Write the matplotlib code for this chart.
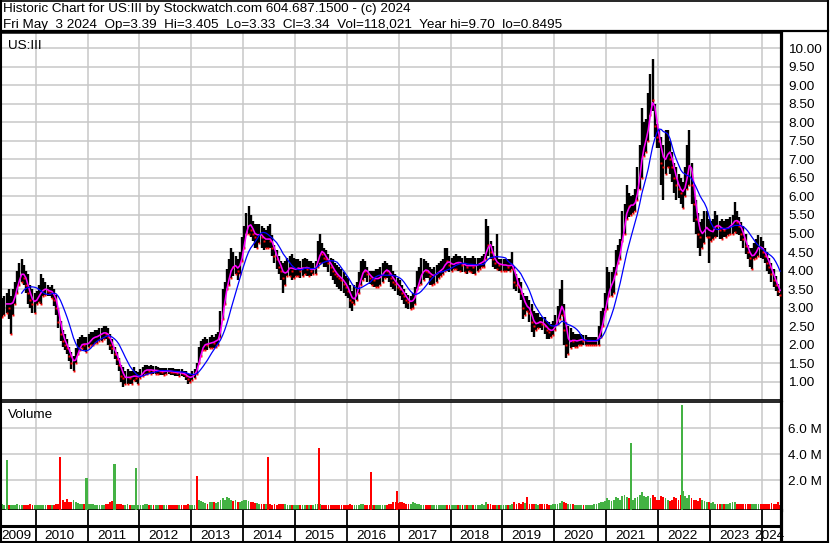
import numpy as np
import matplotlib
matplotlib.use("Agg")
import matplotlib.pyplot as plt
from matplotlib.lines import Line2D

plt.rcParams['font.family'] = ['Liberation Sans', 'DejaVu Sans']

# ---------------- data (semi-monthly readings, starting first half of May 2009) ----------------
start_year = 2009 + 8 / 24

highs = [
    3.25, 3.3, 3.4, 3.5, 3.3, 3.5, 3.7, 4.0, 4.2, 4.3, 4.15, 4.0, 3.9, 3.6, 3.5, 3.4,
    3.45, 3.6, 3.9, 3.8, 3.7, 3.6, 3.55, 3.6, 3.5, 3.35, 3.0, 2.65, 2.4, 2.3, 2.15, 1.95, 1.8, 1.7, 1.9, 2.15, 2.2, 2.25, 2.2, 2.2,
    2.3, 2.35, 2.35, 2.4, 2.4, 2.45, 2.45, 2.5, 2.5, 2.45, 2.3, 2.15, 1.95, 1.8, 1.65, 1.45, 1.4, 1.3, 1.35, 1.3, 1.3, 1.4, 1.3, 1.25,
    1.35, 1.4, 1.45, 1.45, 1.42, 1.45, 1.42, 1.42, 1.4, 1.38, 1.38, 1.38, 1.38, 1.38, 1.36, 1.36, 1.35, 1.33, 1.33, 1.33, 1.3, 1.28, 1.2, 1.22,
    1.3, 1.35, 1.5, 1.95, 2.1, 2.15, 2.2, 2.15, 2.2, 2.25, 2.2, 2.3, 2.35, 2.9, 3.5, 3.7, 4.05, 4.3, 4.6, 4.5, 4.4, 4.3, 4.5, 4.9,
    5.2, 5.55, 5.75, 5.5, 5.35, 5.25, 5.25, 5.25, 5.2, 5.15, 5.1, 5.2, 5.25, 4.95, 4.7, 4.55, 4.4, 4.25, 4.2, 4.25, 4.35, 4.4, 4.45, 4.35,
    4.3, 4.3, 4.25, 4.3, 4.35, 4.3, 4.25, 4.25, 4.2, 4.25, 4.8, 5.0, 4.75, 4.6, 4.55, 4.45, 4.35, 4.3, 4.2, 4.15, 4.1, 4.05, 3.95, 3.85,
    3.8, 3.6, 3.45, 3.6, 3.7, 3.95, 4.25, 4.3, 4.25, 4.1, 4.0, 4.0, 4.0, 4.05, 4.05, 4.1, 4.2, 4.25, 4.2, 4.15, 4.15, 4.0, 3.9, 3.8,
    3.75, 3.6, 3.5, 3.4, 3.35, 3.3, 3.4, 3.55, 4.0, 4.1, 4.35, 4.3, 4.25, 4.2, 4.1, 4.05, 4.1, 4.15, 4.2, 4.25, 4.3, 4.6, 4.6, 4.4,
    4.35, 4.4, 4.45, 4.4, 4.4, 4.35, 4.4, 4.35, 4.35, 4.35, 4.4, 4.35, 4.35, 4.35, 4.4, 4.45, 5.4, 5.2, 4.8, 4.65, 4.4, 5.0, 4.3, 4.3,
    4.3, 4.3, 4.3, 4.3, 4.5, 4.1, 3.9, 3.8, 3.7, 3.4, 3.3, 3.3, 3.2, 3.1, 2.9, 2.85, 2.85, 2.75, 2.75, 2.75, 2.65, 2.6, 2.55, 2.65,
    2.8, 3.05, 3.5, 3.75, 3.1, 2.6, 2.5, 2.45, 2.35, 2.3, 2.3, 2.3, 2.3, 2.25, 2.25, 2.2, 2.2, 2.2, 2.2, 2.2, 2.5, 2.9, 3.0, 3.4,
    4.1, 3.95, 3.95, 4.1, 4.55, 4.7, 4.85, 5.6, 5.8, 6.3, 6.1, 6.0, 6.05, 6.2, 6.8, 7.4, 8.4, 8.0, 8.1, 8.8, 9.3, 9.7, 8.5, 7.95,
    7.8, 7.6, 7.4, 7.8, 7.8, 7.5, 7.2, 6.9, 6.8, 6.6, 6.5, 6.4, 6.8, 7.4, 7.8, 6.9, 6.3, 5.9, 5.55, 5.3, 5.4, 5.6, 5.6, 5.4,
    5.35, 5.4, 5.6, 5.5, 5.35, 5.4, 5.35, 5.4, 5.4, 5.45, 5.5, 5.85, 5.6, 5.45, 5.3, 5.2, 5.0, 4.7, 4.6, 4.6, 4.75, 4.85, 4.95, 4.9,
    4.8, 4.6, 4.5, 4.35, 4.2, 4.05, 3.85, 3.65, 3.405,
]

lows = [
    2.75, 2.8, 2.85, 2.7, 2.3, 2.8, 3.1, 3.4, 3.6, 3.7, 3.6, 3.4, 3.1, 3.0, 2.85, 2.85,
    3.1, 3.15, 3.1, 3.3, 3.35, 3.3, 3.3, 3.25, 3.05, 2.8, 2.45, 2.1, 1.95, 1.85, 1.75, 1.55, 1.35, 1.3, 1.5, 1.75, 1.85, 1.9, 1.85, 1.8,
    1.95, 2.0, 2.0, 2.05, 2.05, 2.1, 2.1, 2.15, 2.15, 2.0, 1.85, 1.75, 1.6, 1.45, 1.3, 1.0, 0.87, 0.95, 0.95, 0.95, 0.95, 1.05, 1.0, 0.95,
    1.1, 1.15, 1.2, 1.2, 1.2, 1.2, 1.2, 1.2, 1.2, 1.18, 1.18, 1.18, 1.2, 1.2, 1.18, 1.18, 1.15, 1.15, 1.15, 1.15, 1.12, 1.05, 0.95, 1.0,
    1.05, 1.1, 1.2, 1.5, 1.7, 1.85, 1.85, 1.85, 1.9, 1.9, 1.9, 1.95, 2.0, 2.2, 2.7, 3.1, 3.5, 3.6, 3.8, 3.85, 3.9, 3.75, 3.9, 4.25,
    4.6, 5.0, 5.0, 4.9, 4.8, 4.6, 4.6, 4.75, 4.6, 4.55, 4.6, 4.6, 4.6, 4.4, 4.2, 4.05, 3.9, 3.75, 3.4, 3.6, 3.85, 3.85, 3.75, 3.8,
    3.85, 3.85, 3.8, 3.85, 3.9, 3.85, 3.85, 3.85, 3.9, 3.9, 4.1, 4.2, 4.2, 4.1, 4.1, 3.95, 3.85, 3.75, 3.65, 3.55, 3.5, 3.45, 3.4, 3.3,
    3.25, 3.0, 2.9, 3.1, 3.2, 3.4, 3.6, 3.75, 3.8, 3.7, 3.65, 3.6, 3.55, 3.55, 3.55, 3.6, 3.7, 3.8, 3.8, 3.7, 3.55, 3.5, 3.45, 3.35,
    3.3, 3.2, 3.1, 3.0, 2.95, 2.95, 3.0, 3.1, 3.5, 3.6, 3.65, 3.75, 3.8, 3.8, 3.6, 3.6, 3.65, 3.7, 3.8, 3.85, 3.9, 4.0, 4.0, 3.95,
    4.0, 4.05, 4.05, 4.0, 4.0, 3.95, 3.95, 3.9, 4.0, 3.95, 3.9, 3.9, 4.0, 4.05, 4.1, 4.1, 4.3, 4.4, 4.3, 4.1, 4.05, 4.05, 4.0, 4.0,
    4.0, 4.0, 4.0, 4.0, 4.05, 3.5, 3.45, 3.4, 3.2, 2.7, 2.8, 2.9, 2.6, 2.35, 2.2, 2.4, 2.45, 2.45, 2.4, 2.3, 2.15, 2.15, 2.2, 2.25,
    2.4, 2.55, 2.7, 2.8, 2.0, 1.65, 1.75, 1.9, 1.95, 1.95, 1.95, 2.0, 2.0, 2.0, 2.0, 2.0, 2.0, 2.0, 2.0, 1.98, 2.0, 2.2, 2.5, 2.9,
    2.95, 3.3, 3.3, 3.4, 3.9, 4.2, 4.3, 4.8, 5.0, 5.4, 5.45, 5.5, 5.55, 5.6, 5.9, 6.2, 6.5, 7.1, 7.2, 7.5, 8.2, 8.3, 7.6, 7.3,
    7.3, 6.3, 5.9, 6.6, 6.8, 6.6, 6.4, 6.1, 5.9, 5.95, 5.8, 5.7, 6.0, 6.2, 6.3, 5.8, 5.3, 5.0, 4.6, 4.4, 4.6, 4.75, 4.9, 4.2,
    4.8, 4.85, 4.9, 4.9, 4.85, 4.85, 4.9, 4.9, 4.95, 5.0, 5.0, 5.05, 5.0, 4.95, 4.8, 4.6, 4.45, 4.3, 4.1, 4.05, 4.3, 4.35, 4.4, 4.35,
    4.3, 4.2, 4.0, 3.9, 3.7, 3.55, 3.45, 3.3, 3.33,
]

closes = [
    3.0, 3.1, 3.2, 3.0, 3.1, 3.3, 3.5, 3.8, 3.9, 4.0, 3.8, 3.6, 3.4, 3.2, 3.1, 3.2,
    3.3, 3.4, 3.5, 3.5, 3.5, 3.45, 3.4, 3.45, 3.2, 3.0, 2.6, 2.3, 2.1, 2.0, 1.9, 1.7, 1.5, 1.5, 1.75, 1.95, 2.0, 2.05, 2.0, 2.0,
    2.1, 2.2, 2.2, 2.2, 2.25, 2.3, 2.3, 2.35, 2.3, 2.2, 2.0, 1.9, 1.75, 1.6, 1.45, 1.15, 1.1, 1.1, 1.15, 1.1, 1.15, 1.2, 1.1, 1.1,
    1.25, 1.3, 1.32, 1.33, 1.3, 1.32, 1.3, 1.3, 1.3, 1.28, 1.27, 1.28, 1.3, 1.28, 1.27, 1.26, 1.25, 1.24, 1.24, 1.23, 1.2, 1.15, 1.08, 1.12,
    1.2, 1.25, 1.4, 1.8, 1.95, 2.0, 2.05, 2.0, 2.05, 2.1, 2.05, 2.15, 2.2, 2.7, 3.2, 3.5, 3.8, 4.0, 4.2, 4.1, 4.1, 4.0, 4.3, 4.7,
    5.0, 5.3, 5.3, 5.1, 5.0, 4.9, 5.0, 5.0, 4.9, 4.8, 4.85, 4.9, 4.8, 4.6, 4.4, 4.3, 4.1, 4.0, 3.8, 4.0, 4.1, 4.1, 4.0, 4.05,
    4.05, 4.1, 4.0, 4.1, 4.1, 4.05, 4.05, 4.0, 4.05, 4.1, 4.5, 4.6, 4.45, 4.35, 4.3, 4.2, 4.1, 4.0, 3.9, 3.85, 3.8, 3.75, 3.65, 3.55,
    3.45, 3.2, 3.15, 3.35, 3.5, 3.75, 4.0, 4.05, 4.0, 3.9, 3.8, 3.8, 3.75, 3.8, 3.8, 3.85, 4.0, 4.05, 4.0, 3.9, 3.8, 3.7, 3.65, 3.55,
    3.5, 3.4, 3.3, 3.2, 3.15, 3.15, 3.25, 3.4, 3.75, 3.85, 4.0, 4.05, 4.0, 3.95, 3.85, 3.85, 3.9, 3.95, 4.0, 4.05, 4.1, 4.3, 4.25, 4.15,
    4.15, 4.2, 4.25, 4.2, 4.2, 4.15, 4.15, 4.1, 4.15, 4.15, 4.1, 4.15, 4.2, 4.2, 4.25, 4.3, 4.9, 4.7, 4.5, 4.3, 4.2, 4.2, 4.15, 4.15,
    4.15, 4.15, 4.1, 4.15, 4.2, 3.7, 3.6, 3.55, 3.4, 3.0, 3.05, 3.05, 2.85, 2.6, 2.5, 2.6, 2.65, 2.6, 2.55, 2.5, 2.4, 2.35, 2.4, 2.45,
    2.6, 2.8, 3.1, 3.2, 2.4, 2.0, 2.1, 2.15, 2.1, 2.1, 2.1, 2.15, 2.15, 2.1, 2.1, 2.1, 2.1, 2.1, 2.1, 2.1, 2.3, 2.6, 2.8, 3.2,
    3.5, 3.6, 3.7, 3.9, 4.3, 4.45, 4.6, 5.3, 5.5, 5.8, 5.75, 5.75, 5.8, 5.95, 6.5, 7.0, 7.4, 7.5, 7.7, 8.2, 8.8, 8.6, 7.9, 7.6,
    7.5, 6.9, 6.8, 7.3, 7.3, 7.0, 6.8, 6.5, 6.3, 6.2, 6.1, 6.1, 6.5, 6.9, 7.1, 6.3, 5.8, 5.4, 5.0, 4.9, 5.1, 5.2, 5.2, 4.9,
    5.1, 5.15, 5.3, 5.2, 5.1, 5.15, 5.1, 5.15, 5.2, 5.25, 5.3, 5.45, 5.3, 5.2, 5.0, 4.85, 4.65, 4.5, 4.35, 4.35, 4.55, 4.6, 4.7, 4.6,
    4.5, 4.4, 4.2, 4.1, 3.9, 3.75, 3.6, 3.45, 3.34,
]

volumes_m = [
    0.15, 0.12, 0.12, 0.1, 0.1, 0.12, 0.1, 0.15, 0.12, 0.1, 0.1, 0.12, 0.1, 0.15, 0.1, 0.12,
    0.1, 0.1, 0.12, 0.1, 0.1, 0.12, 0.1, 0.1, 0.12, 0.15, 0.2, 0.3, 0.45, 0.35, 0.55, 0.3, 0.35, 0.5, 0.3, 0.25, 0.2, 0.15, 0.15, 0.12,
    0.15, 0.2, 0.15, 0.1, 0.12, 0.1, 0.12, 0.1, 0.15, 0.2, 0.35, 0.4, 0.3, 0.2, 0.15, 0.15, 0.12, 0.1, 0.15, 0.1, 0.12, 0.1, 0.1, 0.1,
    0.1, 0.12, 0.2, 0.15, 0.1, 0.1, 0.1, 0.08, 0.1, 0.1, 0.08, 0.08, 0.08, 0.1, 0.08, 0.08, 0.1, 0.08, 0.08, 0.1, 0.08, 0.1, 0.15, 0.1,
    0.1, 0.12, 0.3, 0.5, 0.4, 0.3, 0.25, 0.2, 0.3, 0.35, 0.3, 0.25, 0.3, 0.5, 0.6, 0.5, 0.7, 0.6, 0.5, 0.4, 0.45, 0.35, 0.3, 0.4,
    0.45, 0.5, 0.4, 0.35, 0.3, 0.25, 0.25, 0.2, 0.2, 0.15, 0.15, 0.2, 0.15, 0.12, 0.15, 0.12, 0.15, 0.15, 0.2, 0.15, 0.12, 0.1, 0.12, 0.1,
    0.1, 0.12, 0.1, 0.1, 0.08, 0.1, 0.1, 0.12, 0.1, 0.15, 0.2, 0.15, 0.12, 0.1, 0.1, 0.08, 0.1, 0.08, 0.1, 0.08, 0.1, 0.1, 0.08, 0.1,
    0.12, 0.15, 0.1, 0.1, 0.08, 0.1, 0.2, 0.15, 0.1, 0.1, 0.12, 0.1, 0.12, 0.1, 0.1, 0.1, 0.12, 0.1, 0.1, 0.15, 0.2, 0.3, 0.35, 0.25,
    0.3, 0.35, 0.25, 0.2, 0.15, 0.2, 0.3, 0.25, 0.2, 0.15, 0.12, 0.1, 0.1, 0.1, 0.12, 0.1, 0.1, 0.08, 0.1, 0.1, 0.08, 0.1, 0.1, 0.1,
    0.1, 0.1, 0.1, 0.08, 0.1, 0.1, 0.1, 0.08, 0.08, 0.1, 0.1, 0.12, 0.1, 0.12, 0.15, 0.12, 0.3, 0.2, 0.15, 0.12, 0.1, 0.12, 0.1, 0.1,
    0.1, 0.1, 0.1, 0.1, 0.15, 0.3, 0.2, 0.25, 0.2, 0.3, 0.25, 0.2, 0.15, 0.2, 0.15, 0.15, 0.12, 0.15, 0.2, 0.15, 0.15, 0.12, 0.12, 0.15,
    0.15, 0.2, 0.25, 0.4, 0.3, 0.25, 0.2, 0.15, 0.15, 0.12, 0.12, 0.1, 0.12, 0.1, 0.12, 0.1, 0.1, 0.12, 0.15, 0.15, 0.25, 0.35, 0.3, 0.4,
    0.6, 0.45, 0.4, 0.5, 0.7, 0.6, 0.5, 0.8, 0.9, 0.7, 0.6, 0.5, 0.5, 0.6, 0.7, 0.9, 1.1, 0.8, 0.7, 0.8, 0.6, 0.9, 0.7, 0.5,
    0.5, 0.8, 0.7, 0.6, 0.5, 0.4, 0.5, 0.7, 0.6, 0.5, 0.9, 1.2, 0.8, 0.6, 0.9, 0.6, 0.5, 0.5, 0.4, 0.6, 0.5, 0.4, 0.3, 0.3,
    0.25, 0.3, 0.2, 0.2, 0.15, 0.2, 0.15, 0.15, 0.2, 0.25, 0.35, 0.3, 0.2, 0.15, 0.2, 0.15, 0.15, 0.2, 0.15, 0.2, 0.15, 0.2, 0.2, 0.15,
    0.15, 0.2, 0.15, 0.2, 0.25, 0.2, 0.15, 0.3, 0.12,
]

spike_dates = [2009.45, 2010.46, 2010.98, 2011.52, 2011.93, 2013.11, 2014.48,
               2015.47, 2016.47, 2016.96, 2019.47, 2021.48, 2022.46]
spike_vols_m = [3.56, 3.82, 2.18, 3.25, 2.95, 2.33, 3.79,
                4.46, 2.64, 1.18, 0.72, 4.85, 7.8]
spike_up = [True, False, True, True, True, False, False,
            False, False, False, False, True, True]

price_ticks = [1.0, 1.5, 2.0, 2.5, 3.0, 3.5, 4.0, 4.5, 5.0, 5.5, 6.0, 6.5, 7.0, 7.5, 8.0, 8.5, 9.0, 9.5, 10.0]
volume_ticks_m = [2.0, 4.0, 6.0]
year_labels = list(range(2009, 2025))

title_line1 = "Historic Chart for US:III by Stockwatch.com 604.687.1500 - (c) 2024"
title_line2 = "Fri May  3 2024  Op=3.39  Hi=3.405  Lo=3.33  Cl=3.34  Vol=118,021  Year hi=9.70  lo=0.8495"

assert len(highs) == len(lows) == len(closes) == len(volumes_m)

# ---------------- derived ----------------
n = len(closes)
t = start_year + np.arange(n) / 24 + 1 / 48
hi = np.array(highs)
lo = np.array(lows)
cl = np.array(closes)
vol = np.array(volumes_m)


def moving_average(x, w):
    out = np.full(len(x), np.nan)
    c = np.convolve(x, np.ones(w) / w, mode="valid")
    out[w - 1:] = c
    return out


ma_fast = moving_average(cl, 3)
ma_slow = moving_average(cl, 10)
up = np.concatenate([[True], cl[1:] >= cl[:-1]])

# ---------------- layout ----------------
W, H = 830, 543
fig = plt.figure(figsize=(W / 100, H / 100), dpi=100)
fig.patch.set_facecolor("white")


def rect(x0, y0, x1, y1):
    return [x0 / W, 1 - y1 / H, (x1 - x0) / W, (y1 - y0) / H]


X0, X1 = 2009.3116, 2024.3715
GRID = "#c8c8c8"
FS = 9.7

ax_p = fig.add_axes(rect(0, 32, 781, 400))
ax_v = fig.add_axes(rect(0, 402, 781, 510), sharex=ax_p)
ax_x = fig.add_axes(rect(0, 510, 781, 542), sharex=ax_p)

year_bounds = [y for y in year_labels if X0 < y < X1]

# price panel
ax_p.set_xlim(X0, X1)
ax_p.set_ylim(0.506, 10.44)
for y in price_ticks:
    ax_p.axhline(y, color=GRID, lw=1.1, zorder=0)
for yb in year_bounds:
    ax_p.axvline(yb, color=GRID, lw=1.1, zorder=0)
ax_p.vlines(t, lo, hi, color="black", lw=1.7, zorder=2)
down = ~up
ax_p.plot(t[down], cl[down], ls="none", marker="s", ms=1.8, mec="none", mfc="#ff0000", zorder=3)
ax_p.plot(t[up], lo[up], ls="none", marker="s", ms=1.4, mec="none", mfc="#ff0000", zorder=3)
ax_p.plot(t, ma_fast, color="#ff00ff", lw=1.15, zorder=4)
ax_p.plot(t, ma_slow, color="#0000ff", lw=0.9, zorder=5)
ax_p.yaxis.tick_right()
ax_p.set_yticks(price_ticks)
ax_p.set_yticklabels([f"{v:.2f}" for v in price_ticks])
ax_p.tick_params(axis="y", length=0, pad=5, labelsize=FS)
ax_p.tick_params(axis="x", length=0, labelbottom=False)
ax_p.text(0.0103, 0.953, "US:III", transform=ax_p.transAxes, fontsize=FS, va="baseline", ha="left")

# volume panel
ax_v.set_ylim(-0.285, 8.023)
for y in volume_ticks_m:
    ax_v.axhline(y, color=GRID, lw=1.1, zorder=0)
for yb in year_bounds:
    ax_v.axvline(yb, color=GRID, lw=1.1, zorder=0)
vcols = np.where(up, "#44b244", "#ff0000")
ax_v.bar(t, vol + 0.285, bottom=-0.285, width=1 / 24 * 0.85, color=vcols, linewidth=0, zorder=2)
scols = ["#44b244" if u else "#ff0000" for u in spike_up]
ax_v.bar(spike_dates, np.array(spike_vols_m) + 0.285, bottom=-0.285, width=0.04,
         color=scols, linewidth=0, zorder=3)
ax_v.yaxis.tick_right()
ax_v.set_yticks(volume_ticks_m)
ax_v.set_yticklabels([f"{v:.1f} M" for v in volume_ticks_m])
ax_v.tick_params(axis="y", length=0, pad=5, labelsize=FS)
ax_v.tick_params(axis="x", length=0, labelbottom=False)
ax_v.text(0.0106, 0.85, "Volume", transform=ax_v.transAxes, fontsize=FS, va="baseline", ha="left")

# year rows
ax_x.set_ylim(0, 1)
ax_x.set_yticks([])
ax_x.tick_params(axis="x", length=0, labelbottom=False)
for yb in year_bounds:
    ax_x.axvline(yb, color="black", lw=1.3)
ax_x.axhline(0.5, color="black", lw=2.2)
for yr in year_labels:
    a, b = max(yr, X0), min(yr + 1, X1)
    ax_x.text((a + b) / 2 - 0.035, 0.09, str(yr), ha="center", va="baseline", fontsize=FS)

for ax in (ax_p, ax_v, ax_x):
    ax.set_facecolor("white")
    ax.spines["left"].set_linewidth(1.5)
    ax.spines["right"].set_linewidth(2.3)
    for s in ax.spines.values():
        s.set_color("black")
ax_p.spines["top"].set_linewidth(1.8)
ax_p.spines["bottom"].set_linewidth(1.2)
ax_v.spines["top"].set_linewidth(1.2)
ax_v.spines["bottom"].set_linewidth(1.8)
ax_x.spines["top"].set_visible(False)
ax_x.spines["bottom"].set_linewidth(1.8)


# outer frame + title box
def fline(x0, y0, x1, y1, lw):
    fig.add_artist(Line2D([x0 / W, x1 / W], [1 - y0 / H, 1 - y1 / H], color="black", lw=lw,
                          transform=fig.transFigure))


fline(0, 31, 828, 31, 1.6)
fline(0.5, 0, 0.5, 543, 1.5)
fline(828, 0, 828, 542, 1.5)
fline(0, 542, 828, 542, 1.5)
fline(0, 0.5, 828, 0.5, 1.2)

fig.text(3 / W, 1 - 12 / H, title_line1, fontsize=FS, va="baseline", ha="left")
fig.text(3 / W, 1 - 27.7 / H, title_line2, fontsize=FS, va="baseline", ha="left")

fig.savefig("out.png", dpi=100, facecolor="white")
